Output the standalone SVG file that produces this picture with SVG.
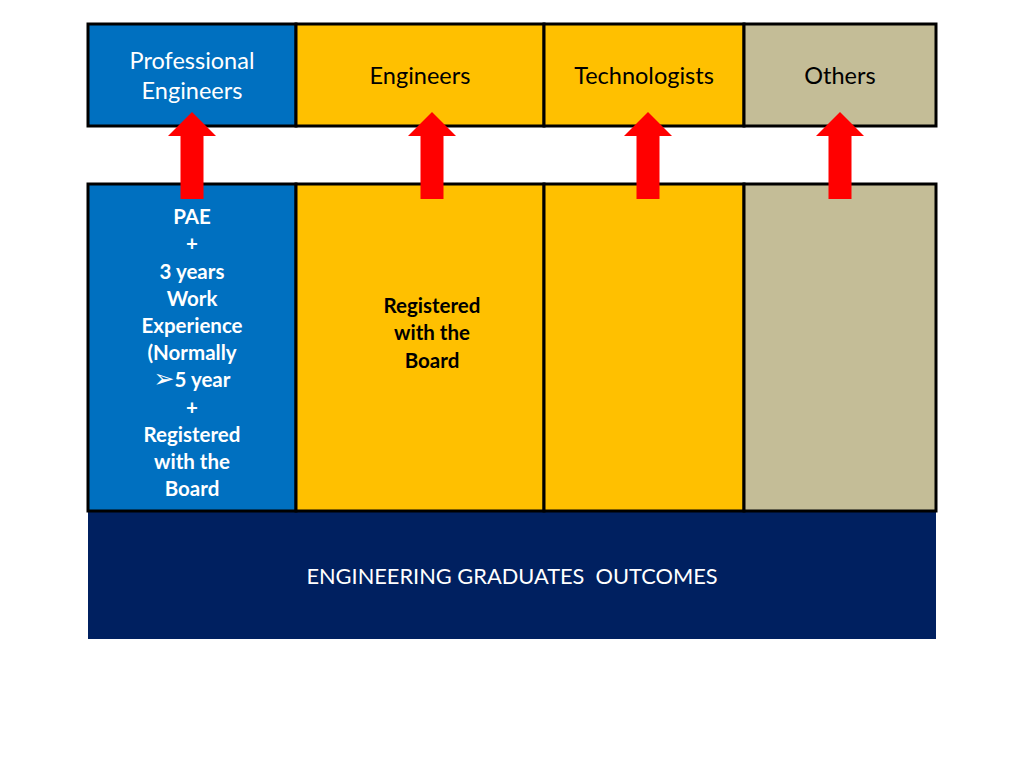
<svg xmlns="http://www.w3.org/2000/svg" width="1024" height="768" viewBox="0 0 1024 768">
<defs>
<style>
.box{stroke:#000;stroke-width:3}
.blue{fill:#0070C0}
.gold{fill:#FFC000}
.tan{fill:#C4BD97}
.navy{fill:#002060}
.t{font-family:Lato,"Open Sans","Liberation Sans",sans-serif;text-anchor:middle}
.hdr{font-size:23.5px}
.bw{font-size:20.5px;font-weight:bold;fill:#fff}
.bk{font-size:20.5px;font-weight:bold;fill:#000}
.arrow{fill:#FF0000}
</style>
</defs>
<rect x="0" y="0" width="1024" height="768" fill="#fff"/>
<g id="outcomes">
<rect class="navy" x="88" y="511" width="848" height="128"/>
<text class="t" x="512" y="584" font-size="21.8" fill="#fff" xml:space="preserve">ENGINEERING GRADUATES  OUTCOMES</text>
</g>
<g id="pe-top">
<rect class="box blue" x="88" y="24" width="208" height="102"/>
<text class="t hdr" x="192" y="69" fill="#fff">Professional</text>
<text class="t hdr" x="192" y="99" fill="#fff">Engineers</text>
</g>
<g id="eng-top">
<rect class="box gold" x="296" y="24" width="248" height="102"/>
<text class="t hdr" x="420" y="84" fill="#000">Engineers</text>
</g>
<g id="tech-top">
<rect class="box gold" x="544" y="24" width="200" height="102"/>
<text class="t hdr" x="644" y="84" fill="#000">Technologists</text>
</g>
<g id="others-top">
<rect class="box tan" x="744" y="24" width="192" height="102"/>
<text class="t hdr" x="840" y="84" fill="#000">Others</text>
</g>
<g id="pe-req">
<rect class="box blue" x="88" y="184" width="208" height="327"/>
<text class="t bw" x="192" y="224">PAE</text>
<text class="t bw" x="192" y="251">+</text>
<text class="t bw" x="192" y="278.5">3 years</text>
<text class="t bw" x="192" y="305.5">Work</text>
<text class="t bw" x="192" y="333">Experience</text>
<text class="t bw" x="192" y="360">(Normally</text>
<text class="t bw" x="192" y="387"><tspan font-family="'DejaVu Sans',sans-serif" font-size="25" font-weight="normal">➢</tspan>5 year</text>
<text class="t bw" x="192" y="414.5">+</text>
<text class="t bw" x="192" y="441.5">Registered</text>
<text class="t bw" x="192" y="469">with the</text>
<text class="t bw" x="192" y="496">Board</text>
</g>
<g id="eng-req">
<rect class="box gold" x="296" y="184" width="248" height="327"/>
<text class="t bk" x="432" y="313">Registered</text>
<text class="t bk" x="432" y="340">with the</text>
<text class="t bk" x="432" y="368">Board</text>
</g>
<g id="tech-req">
<rect class="box gold" x="544" y="184" width="200" height="327"/>
</g>
<g id="others-req">
<rect class="box tan" x="744" y="184" width="192" height="327"/>
</g>
<g id="connectors">
<polygon class="arrow" points="192,112 216,136 203.5,136 203.5,199 180.5,199 180.5,136 168,136"/>
<polygon class="arrow" points="432,112 456,136 443.5,136 443.5,199 420.5,199 420.5,136 408,136"/>
<polygon class="arrow" points="648,112 672,136 659.5,136 659.5,199 636.5,199 636.5,136 624,136"/>
<polygon class="arrow" points="840,112 864,136 851.5,136 851.5,199 828.5,199 828.5,136 816,136"/>
</g>
</svg>
